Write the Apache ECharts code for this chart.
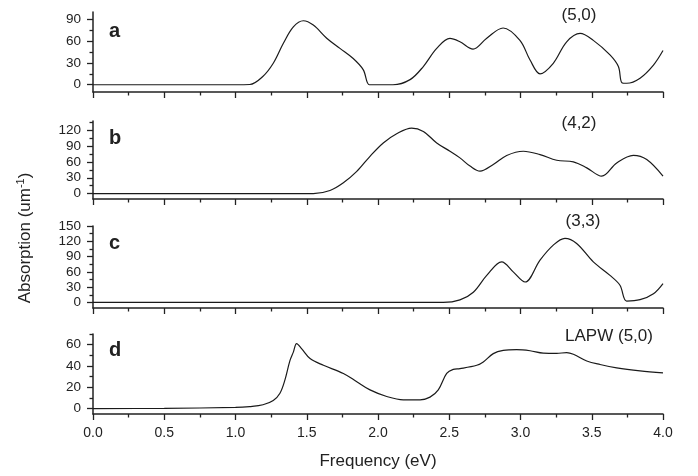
<!DOCTYPE html>
<html><head><meta charset="utf-8">
<script src="https://cdn.jsdelivr.net/npm/echarts@6/dist/echarts.min.js"></script>
<style>html,body{margin:0;padding:0;background:#fff}#c{width:698px;height:476px}</style>
</head><body><div id="c"></div>
<script>
// Panel a (5,0)
const xA = [0,0.5,1.0,1.10,1.19,1.265,1.336,1.406,1.476,1.546,1.640,1.733,1.826,1.897,1.939,2.0,2.105,2.225,2.318,2.412,2.505,2.575,2.667,2.761,2.878,2.996,3.067,3.137,3.230,3.324,3.418,3.511,3.628,3.687,3.711,3.746,3.839,3.933,4.0];
const yA = [0,0,0,0.3,11,29.5,57,79.5,88,82,64,50,36,20.5,0,0,0,7,25,50,63.6,59,49,63.6,78,61,34,15,29.5,59,70.5,61,41,25,3,2,9,27,47];
// Panel b (4,2)
const xB = [0,0.5,1.0,1.546,1.663,1.757,1.851,1.944,2.037,2.131,2.236,2.318,2.412,2.505,2.575,2.646,2.716,2.809,2.903,3.020,3.137,3.254,3.371,3.465,3.570,3.675,3.792,3.886,4.0];
const yB = [0,0,0,0,6,20.6,42,70.5,95.6,113,123.7,117.4,95.6,80,67.5,52,42.4,55,72,80,73.7,63,60,48.7,33,58,72.4,64.3,33];
// Panel c (3,3)
const xC = [0,0.5,1.0,1.5,2.0,2.458,2.575,2.669,2.763,2.868,2.949,3.032,3.137,3.230,3.312,3.394,3.511,3.628,3.698,3.745,3.839,3.933,4.0];
const yC = [0,0,0,0,0,0,5,20,53,79.6,60,40,83,112.5,125.7,115.8,79.6,53,33.6,2.6,5.3,17,37];
// Panel d LAPW (5,0)
const xD = [0,0.5,1.0,1.10,1.193,1.265,1.312,1.347,1.382,1.406,1.429,1.465,1.523,1.617,1.757,1.851,1.944,2.061,2.178,2.295,2.365,2.423,2.482,2.528,2.575,2.693,2.739,2.809,2.879,2.973,3.067,3.160,3.254,3.324,3.371,3.465,3.558,3.675,3.839,4.0];
const yD = [0,0.3,1.2,2,3.7,7.7,14.5,27,45,53,61,56,47,40.7,33,25.3,17.6,11.4,8.3,8.3,10.8,17.6,33,36.8,37.5,40.7,43.8,51.6,54.6,55.3,54.3,52.1,51.9,52.5,51,44.7,41.4,38.3,35.5,33.6];

const panelLabels = ['a','b','c','d'];
const annotations = ['(5,0)','(4,2)','(3,3)','LAPW (5,0)'];
const yMajor = [[0,30,60,90],[0,30,60,90,120],[0,30,60,90,120,150],[0,20,40,60]];
const yMinor = [[15,45,75],[15,45,75,105,135],[15,45,75,105,135],[10,30,50,70]];
const yMin = [-10,-10,-11,-5];
const yMax = [100,137,150,70];
const xTicks = 0.5;

const FONT = 'Liberation Sans, Arial, Helvetica, sans-serif';
const INK = '#222';
const grids = [{top:12,height:80},{top:121,height:78},{top:226,height:82},{top:334,height:80}];
const xs = [xA,xB,xC,xD], ys = [yA,yB,yC,yD];

const option = {
  animation:false,
  backgroundColor:'#fff',
  grid: grids.map(g=>({left:93,right:35,top:g.top,height:g.height})),
  xAxis: grids.map((g,i)=>({
    type:'value', gridIndex:i, min:0, max:4, interval:xTicks,
    axisLine:{show:true,onZero:false,lineStyle:{color:INK,width:1.5}},
    axisTick:{show:true,inside:false,length:6,lineStyle:{color:INK,width:1.3}},
    minorTick:{show:true,splitNumber:2,length:3.5,lineStyle:{color:INK,width:1.3}},
    splitLine:{show:false}, minorSplitLine:{show:false},
    axisLabel:{show:i===3,margin:12,color:INK,fontSize:14,fontFamily:FONT,formatter:v=>v.toFixed(1)},
    name: i===3?'Frequency (eV)':'', nameLocation:'middle', nameGap:39,
    nameTextStyle:{color:INK,fontSize:17,fontFamily:FONT}
  })),
  yAxis: [].concat(...grids.map((g,i)=>[
    {type:'value',gridIndex:i,min:yMin[i],max:yMax[i],
     axisLine:{show:true,onZero:false,lineStyle:{color:INK,width:1.5}},
     axisTick:{show:true,length:6,customValues:yMajor[i],lineStyle:{color:INK,width:1.3}},
     axisLabel:{show:true,margin:12,customValues:yMajor[i],color:INK,fontSize:13.5,fontFamily:FONT},
     splitLine:{show:false}},
    {type:'value',gridIndex:i,min:yMin[i],max:yMax[i],position:'left',
     axisLine:{show:false},
     axisTick:{show:true,length:3.5,customValues:yMinor[i],lineStyle:{color:INK,width:1.3}},
     axisLabel:{show:false,customValues:yMinor[i]},
     splitLine:{show:false}}
  ])),
  series: grids.map((g,i)=>({
    type:'line', xAxisIndex:i, yAxisIndex:i*2, showSymbol:false, smooth:0.35,
    lineStyle:{color:'#1a1a1a',width:1.2},
    data: xs[i].map((x,k)=>[x,ys[i][k]])
  })),
  graphic: [
    ...panelLabels.map((t,i)=>({type:'text',x:109,y:[31,138,243,350][i],
      style:{text:t,font:'bold 20px '+FONT,fill:INK,align:'left',verticalAlign:'middle'}})),
    ...annotations.map((t,i)=>({type:'text',x:[579,579,583,609][i],y:[15,123,221,336][i],
      style:{text:t,font:'17px '+FONT,fill:INK,align:'center',verticalAlign:'middle'}})),
    {type:'text',x:25,y:238,rotation:Math.PI/2,
      style:{text:'Absorption (um{sup|-1})',font:'17px '+FONT,fontSize:17,fontFamily:FONT,fill:INK,align:'center',verticalAlign:'middle',
        rich:{sup:{fontSize:11,fontFamily:FONT,fill:INK,padding:[0,0,9,0]}}}}
  ]
};
const chart = echarts.init(document.getElementById('c'),null,{renderer:'canvas'});
chart.setOption(option);
</script></body></html>
